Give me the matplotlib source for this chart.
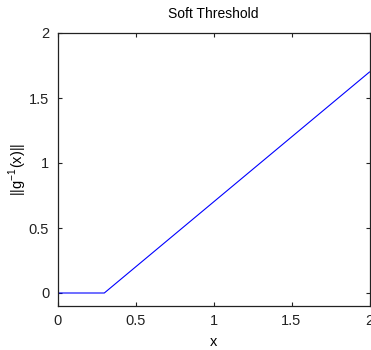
import matplotlib
matplotlib.use("Agg")
import matplotlib.pyplot as plt

x_vals = [0.0, 0.3, 2.0]
y_vals = [0.0, 0.0, 1.7]
x_ticks = [0, 0.5, 1, 1.5, 2]
x_tick_labels = ["0", "0.5", "1", "1.5", "2"]
y_ticks = [0, 0.5, 1, 1.5, 2]
y_tick_labels = ["0", "0.5", "1", "1.5", "2"]

plt.rcParams['font.family'] = ['Liberation Sans', 'DejaVu Sans']
fig = plt.figure(figsize=(3.71, 3.5), dpi=100)
ax = fig.add_axes([57.5/371, 1-306/350, (369.5-57.5)/371, (306-33)/350])
ax.plot(x_vals, y_vals, color='#0000ff', linewidth=0.8)
ax.set_xlim(0, 2)
ax.set_ylim(-0.1, 2)
ax.set_xticks(x_ticks)
ax.set_xticklabels(x_tick_labels)
ax.set_yticks(y_ticks)
ax.set_yticklabels(y_tick_labels)
ax.tick_params(direction='in', top=True, right=True, labelsize=10.5, length=3, width=0.8, colors='#222222', pad=6)
for s in ax.spines.values():
    s.set_linewidth(0.9)
    s.set_color('#222222')
ax.set_title('Soft Threshold', fontsize=10, pad=11)
ax.set_xlabel('x', fontsize=10.5, labelpad=5)
ax.set_ylabel(r'||g$^{\mathregular{-1}}$(x)||', fontsize=10.5, labelpad=0)
fig.savefig('out.png', dpi=100)
